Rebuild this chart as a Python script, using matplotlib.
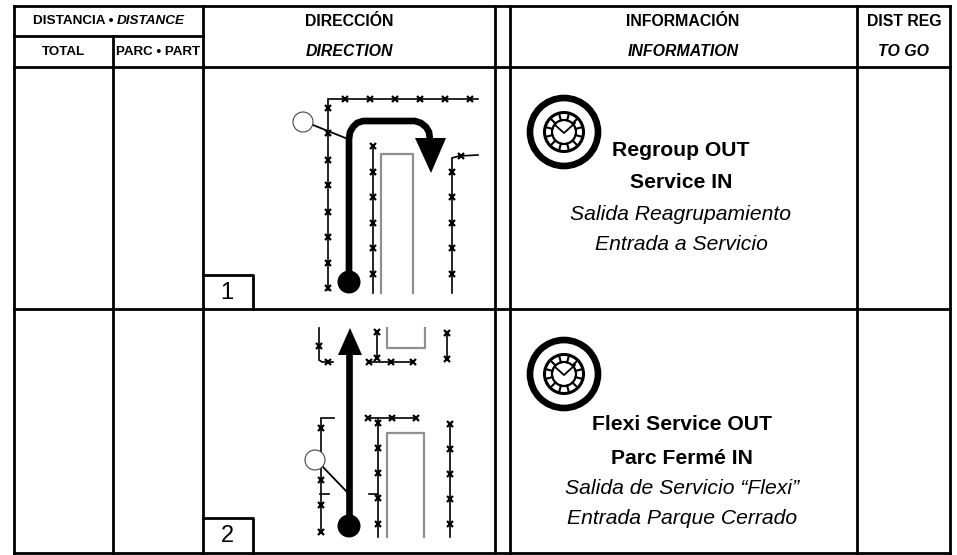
from matplotlib import pyplot as plt
from matplotlib.patches import Circle, Polygon
import numpy as np

plt.rcParams['font.family'] = ['Liberation Sans', 'DejaVu Sans']

# table grid, in pixels of the original sheet
row_y = [6, 67, 309, 553]
col_x = [14, 203, 495, 510, 857, 950]
sub_row_y = 36
sub_col_x = 113

header_top = ["DIRECCIÓN", "INFORMACIÓN", "DIST REG"]
header_sub = ["DIRECTION", "INFORMATION", "TO GO"]
header_x = [349, 683, 904]

texts_1 = ["Regroup OUT", "Service IN", "Salida Reagrupamiento", "Entrada a Servicio"]
texts_2 = ["Flexi Service OUT", "Parc Fermé IN", "Salida de Servicio “Flexi”", "Entrada Parque Cerrado"]
texts_1_y = [151, 182, 215, 245]
texts_2_y = [425, 458, 489, 518]
texts_1_x = [681, 681, 681, 681]
texts_2_x = [682, 682, 682, 682]

# fences of box 1
fences_1 = [
    ([478, 328, 328], [99, 99, 290]),
    ([373, 373], [146, 293]),
    ([452, 452, 459, 478], [293, 158, 156, 155]),
]
crosses_1_x = [345, 370, 395, 420, 445, 470, 328, 328, 328, 328, 328, 328, 328, 328,
               373, 373, 373, 373, 373, 373, 461, 452, 452, 452, 452, 452]
crosses_1_y = [99, 99, 99, 99, 99, 99, 108, 133, 160, 185, 212, 237, 263, 288,
               146, 172, 197, 223, 248, 274, 156, 172, 197, 223, 248, 274]
grey_1 = ([381, 381, 413, 413], [293, 154, 154, 293])

# fences of box 2
fences_2 = [
    ([319, 319, 322, 333], [328, 360, 362, 362]),
    ([377, 377], [332, 358]),
    ([369, 413], [362, 362]),
    ([447, 447], [333, 359]),
    ([334, 321, 321], [418, 418, 532]),
    ([320, 329], [494, 494]),
    ([368, 416], [418, 418]),
    ([378, 378], [418, 537]),
    ([369, 378], [494, 494]),
    ([450, 450], [424, 537]),
]
crosses_2_x = [319, 328, 377, 377, 369, 391, 413, 447, 447,
               321, 321, 321, 321, 368, 392, 416,
               378, 378, 378, 378, 378, 450, 450, 450, 450, 450]
crosses_2_y = [346, 362, 332, 358, 362, 362, 362, 333, 359,
               428, 480, 505, 532, 418, 418, 418,
               423, 448, 473, 498, 524, 424, 449, 474, 499, 524]
grey_2 = [([387, 387, 425, 425], [328, 348, 348, 328]),
          ([387, 387, 424, 424], [537, 433, 433, 537])]

route_x = [349, 349, 350, 353, 357, 363, 370, 415, 421, 426, 429, 430]
route_y = [282, 139, 132, 127, 123, 121, 121, 121, 123, 127, 132, 140]
route_2_x = [349, 349]
route_2_y = [526, 350]


def draw_clock(ax, cx, cy):
    ax.add_patch(Circle((cx, cy), 34, fc='white', ec='black', lw=4.8))
    ax.add_patch(Circle((cx, cy), 19.5, fc='white', ec='black', lw=2.2))
    ax.add_patch(Circle((cx, cy), 12, fc='white', ec='black', lw=1.6))
    for ang in np.arange(0, 360, 30):
        a = np.radians(ang + 15)
        ax.plot([cx + 12 * np.cos(a), cx + 19 * np.cos(a)],
                [cy + 12 * np.sin(a), cy + 19 * np.sin(a)], color='black', lw=1.5)
    ax.plot([cx - 9, cx, cx + 11], [cy - 7, cy + 1, cy - 9], color='black', lw=1.3)


def draw_box(ax, label, top, bottom):
    ax.plot([203, 253, 253], [top, top, bottom], color='black', lw=2)
    ax.text(227, (top + bottom) / 2 + 1, label, fontsize=17, ha='center', va='center')


def draw_fences(ax, fences, xs, ys):
    for fx, fy in fences:
        ax.plot(fx, fy, color='black', lw=1.2, solid_joinstyle='miter')
    ax.plot(xs, ys, ls='none', marker='x', color='black', ms=4.8, mew=1.6)


fig = plt.figure(figsize=(9.57, 5.55), dpi=100)
ax = fig.add_axes([0, 0, 1, 1])
ax.set_xlim(0, 957)
ax.set_ylim(555, 0)
ax.axis('off')

# grid
for y in row_y:
    ax.plot([col_x[0], col_x[-1]], [y, y], color='black', lw=2, solid_capstyle='projecting')
for x in col_x:
    ax.plot([x, x], [row_y[0], row_y[-1]], color='black', lw=2, solid_capstyle='projecting')
ax.plot([col_x[0], col_x[1]], [sub_row_y, sub_row_y], color='black', lw=2)
ax.plot([sub_col_x, sub_col_x], [sub_row_y, row_y[-1]], color='black', lw=2)

# headers
ax.text(113.5, 21, "DISTANCIA •", fontsize=9.7, fontweight='bold', ha='right', va='center')
ax.text(117, 21, "DISTANCE", fontsize=9.7, fontweight='bold', style='italic', ha='left', va='center')
ax.text(63, 52, "TOTAL", fontsize=9.6, fontweight='bold', ha='center', va='center')
ax.text(158, 52, "PARC • PART", fontsize=9.6, fontweight='bold', ha='center', va='center')
for hx, top, sub in zip(header_x, header_top, header_sub):
    ax.text(hx, 21, top, fontsize=11.4, fontweight='bold', ha='center', va='center')
    ax.text(hx, 52, sub, fontsize=11.4, fontweight='bold', style='italic', ha='center', va='center')

# box 1 sketch
draw_fences(ax, fences_1, crosses_1_x, crosses_1_y)
ax.plot(grey_1[0], grey_1[1], color='#909090', lw=1.6)
ax.plot([313, 348], [125, 139], color='black', lw=1.3)
ax.add_patch(Circle((303, 122), 10, fc='white', ec='#444444', lw=0.8, zorder=4))
ax.plot(route_x, route_y, color='black', lw=4.8, zorder=5)
ax.add_patch(Polygon([(415, 138), (446, 138), (431, 173)], fc='black', ec='none', zorder=5))
ax.add_patch(Circle((349, 282), 11.5, fc='black', ec='none', zorder=5))
draw_box(ax, "1", 275, 309)

# box 2 sketch
draw_fences(ax, fences_2, crosses_2_x, crosses_2_y)
for gx, gy in grey_2:
    ax.plot(gx, gy, color='#909090', lw=1.6)
ax.plot([322, 347], [466, 492], color='black', lw=1.3)
ax.add_patch(Circle((315, 460), 10, fc='white', ec='#444444', lw=0.8, zorder=4))
ax.plot(route_2_x, route_2_y, color='black', lw=4.8, zorder=5)
ax.add_patch(Polygon([(338, 355), (362, 355), (350, 328)], fc='black', ec='none', zorder=5))
ax.add_patch(Circle((349, 526), 11.5, fc='black', ec='none', zorder=5))
draw_box(ax, "2", 518, 553)

# information column
draw_clock(ax, 564, 132)
draw_clock(ax, 564, 374)
for i in range(4):
    bold = i < 2
    ax.text(texts_1_x[i], texts_1_y[i], texts_1[i], fontsize=15.2, ha='center', va='center',
            fontweight='bold' if bold else 'normal', style='normal' if bold else 'italic')
    ax.text(texts_2_x[i], texts_2_y[i], texts_2[i], fontsize=15.2, ha='center', va='center',
            fontweight='bold' if bold else 'normal', style='normal' if bold else 'italic')

plt.savefig('out.png', dpi=100)
